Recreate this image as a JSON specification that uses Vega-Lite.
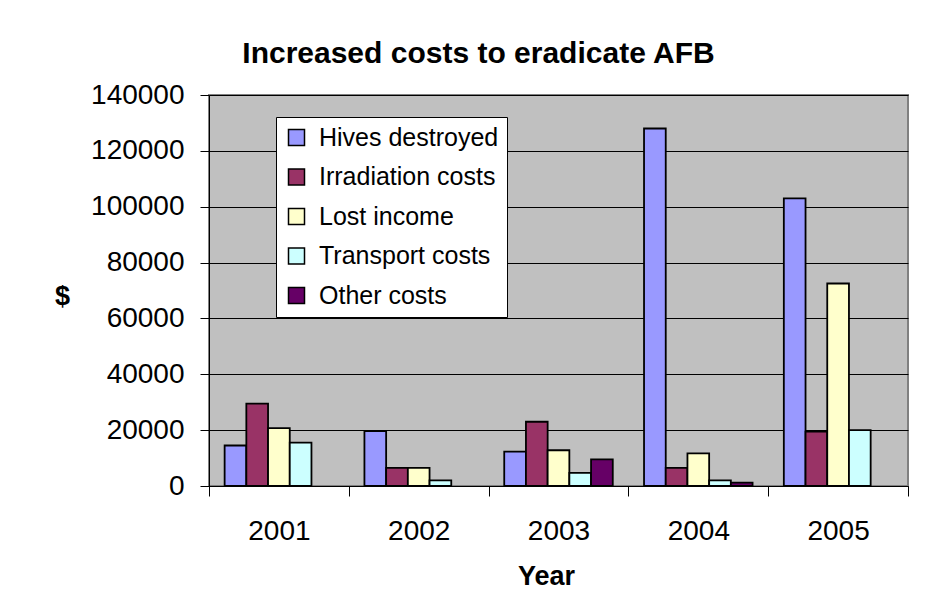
{
  "$schema": "https://vega.github.io/schema/vega-lite/v6.json",
  "width": 699,
  "height": 391,
  "autosize": {"type": "none"},
  "padding": {"left": 209, "top": 95, "right": 42, "bottom": 108},
  "background": "white",
  "title": {
    "text": "Increased costs to eradicate AFB",
    "fontSize": 30,
    "fontWeight": "bold",
    "font": "Liberation Sans",
    "color": "black",
    "anchor": "middle",
    "frame": "group",
    "dx": -80,
    "offset": 12
  },
  "data": {
    "values": [
      {"year": "2001", "category": "Hives destroyed", "value": 14500},
      {"year": "2001", "category": "Irradiation costs", "value": 29500},
      {"year": "2001", "category": "Lost income", "value": 20700},
      {"year": "2001", "category": "Transport  costs", "value": 15500},
      {"year": "2002", "category": "Hives destroyed", "value": 19700},
      {"year": "2002", "category": "Irradiation costs", "value": 6500},
      {"year": "2002", "category": "Lost income", "value": 6500},
      {"year": "2002", "category": "Transport  costs", "value": 2000},
      {"year": "2003", "category": "Hives destroyed", "value": 12300},
      {"year": "2003", "category": "Irradiation costs", "value": 23000},
      {"year": "2003", "category": "Lost income", "value": 12800},
      {"year": "2003", "category": "Transport  costs", "value": 4700},
      {"year": "2003", "category": "Other costs", "value": 9500},
      {"year": "2004", "category": "Hives destroyed", "value": 128000},
      {"year": "2004", "category": "Irradiation costs", "value": 6500},
      {"year": "2004", "category": "Lost income", "value": 11700},
      {"year": "2004", "category": "Transport  costs", "value": 2000},
      {"year": "2004", "category": "Other costs", "value": 1200},
      {"year": "2005", "category": "Hives destroyed", "value": 103000},
      {"year": "2005", "category": "Irradiation costs", "value": 19500},
      {"year": "2005", "category": "Lost income", "value": 72500},
      {"year": "2005", "category": "Transport  costs", "value": 20000}
    ]
  },
  "mark": {"type": "bar", "stroke": "black", "strokeWidth": 1.8},
  "encoding": {
    "x": {
      "field": "year",
      "type": "nominal",
      "scale": {"paddingInner": 0, "paddingOuter": 0},
      "axis": {
        "title": "Year",
        "labelAngle": 0,
        "tickBand": "extent",
        "tickSize": 10,
        "tickColor": "black",
        "domainColor": "black",
        "labelPadding": 21,
        "labelFontSize": 28,
        "labelFont": "Liberation Sans",
        "labelColor": "black",
        "titleFont": "Liberation Sans",
        "titleFontSize": 27,
        "titleFontWeight": "bold",
        "titleColor": "black",
        "titleX": 337,
        "titleY": 90,
        "titleAlign": "center",
        "titleBaseline": "middle",
        "grid": false
      }
    },
    "xOffset": {
      "field": "category",
      "type": "nominal",
      "scale": {
        "domain": ["Hives destroyed", "Irradiation costs", "Lost income", "Transport  costs", "Other costs"],
        "paddingInner": 0,
        "paddingOuter": 0.72
      }
    },
    "y": {
      "field": "value",
      "type": "quantitative",
      "scale": {"domain": [0, 140000], "nice": false},
      "axis": {
        "title": "$",
        "values": [0, 20000, 40000, 60000, 80000, 100000, 120000, 140000],
        "format": "d",
        "grid": true,
        "gridColor": "black",
        "gridWidth": 1,
        "gridOpacity": 1,
        "tickSize": 9,
        "tickColor": "black",
        "domainColor": "black",
        "labelPadding": 16,
        "labelFontSize": 28,
        "labelFont": "Liberation Sans",
        "labelColor": "black",
        "titleFont": "Liberation Sans",
        "titleFontSize": 27,
        "titleFontWeight": "bold",
        "titleColor": "black",
        "titleAngle": 0,
        "titleX": -147,
        "titleY": 201,
        "titleAlign": "center",
        "titleBaseline": "middle"
      }
    },
    "color": {
      "field": "category",
      "type": "nominal",
      "scale": {
        "domain": ["Hives destroyed", "Irradiation costs", "Lost income", "Transport  costs", "Other costs"],
        "range": ["#9999FF", "#993366", "#FFFFCC", "#CCFFFF", "#660066"]
      },
      "legend": {
        "title": null,
        "orient": "none",
        "legendX": 67,
        "legendY": 22,
        "fillColor": "white",
        "strokeColor": "black",
        "padding": 8,
        "symbolType": "square",
        "symbolSize": 256,
        "symbolStrokeColor": "black",
        "symbolStrokeWidth": 1.5,
        "symbolOpacity": 1,
        "labelFontSize": 25,
        "labelFont": "Liberation Sans",
        "labelColor": "black",
        "labelOffset": 10,
        "rowPadding": 13.5,
        "labelLimit": 400
      }
    }
  },
  "config": {
    "view": {"fill": "#C0C0C0", "stroke": "#808080", "strokeWidth": 2},
    "axis": {"labelOverlap": false}
  }
}
